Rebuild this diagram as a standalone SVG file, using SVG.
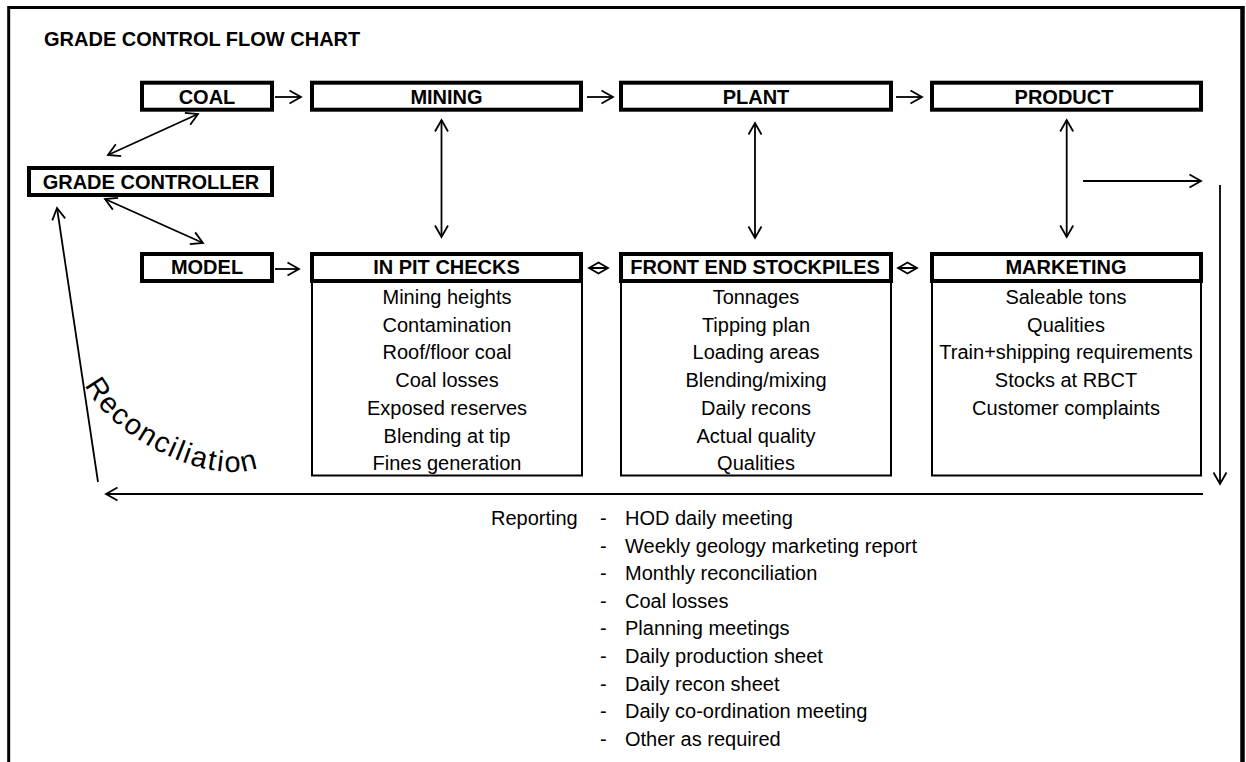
<svg xmlns="http://www.w3.org/2000/svg" width="1246" height="762" viewBox="0 0 1246 762">
<style>
  .hdr { fill: #ffffff; stroke: #000; stroke-width: 4; }
  .body { fill: none; stroke: #000; stroke-width: 2; }
  .lbl { font-family: "Liberation Sans", Arial, sans-serif; font-size: 20px; font-weight: bold; text-anchor: middle; fill: #000; }
  .txt { font-family: "Liberation Sans", Arial, sans-serif; font-size: 20px; text-anchor: middle; fill: #000; }
  .rep { font-family: "Liberation Sans", Arial, sans-serif; font-size: 20px; fill: #000; }
  .con { fill: none; stroke: #000; stroke-width: 1.8; }
  .arr { marker-end: url(#ah); }
  .dbl { marker-start: url(#ah); marker-end: url(#ah); }
</style>
<defs>
  <marker id="ah" markerUnits="userSpaceOnUse" markerWidth="16" markerHeight="16" refX="13" refY="8" orient="auto-start-reverse">
    <path d="M1.5,1.5 L13,8 L1.5,14.5" fill="none" stroke="#000" stroke-width="1.8"/>
  </marker>
</defs>
<rect width="1246" height="762" fill="#ffffff"/>
<g id="frame">
  <path d="M8.7,762 V7.5 H1242.5" fill="none" stroke="#000" stroke-width="3"/>
  <line x1="1242.5" y1="6" x2="1242.5" y2="762" stroke="#000" stroke-width="4.5"/>
</g>
<text x="44" y="46" class="rep" font-weight="bold">GRADE CONTROL FLOW CHART</text>

<g id="coal"><rect class="hdr" x="142" y="82.7" width="130" height="27"/><text class="lbl" x="207" y="103.5">COAL</text></g>
<g id="mining"><rect class="hdr" x="312" y="82.7" width="269" height="27"/><text class="lbl" x="446.5" y="103.5">MINING</text></g>
<g id="plant"><rect class="hdr" x="621" y="82.7" width="270" height="27"/><text class="lbl" x="756" y="103.5">PLANT</text></g>
<g id="product"><rect class="hdr" x="932" y="82.7" width="269" height="27"/><text class="lbl" x="1064" y="103.5">PRODUCT</text></g>
<g id="grade-controller"><rect class="hdr" x="29" y="168" width="243" height="27"/><text class="lbl" x="151" y="189">GRADE CONTROLLER</text></g>
<g id="model"><rect class="hdr" x="142" y="254" width="130" height="27"/><text class="lbl" x="207" y="274">MODEL</text></g>

<g id="in-pit-checks">
  <rect class="body" x="312" y="281" width="270" height="194.5"/>
  <rect class="hdr" x="312" y="254" width="269" height="27"/>
  <text class="lbl" x="446.5" y="274">IN PIT CHECKS</text>
  <text class="txt" x="447" y="304">Mining heights</text>
  <text class="txt" x="447" y="331.7">Contamination</text>
  <text class="txt" x="447" y="359.4">Roof/floor coal</text>
  <text class="txt" x="447" y="387.1">Coal losses</text>
  <text class="txt" x="447" y="414.8">Exposed reserves</text>
  <text class="txt" x="447" y="442.5">Blending at tip</text>
  <text class="txt" x="447" y="470.2">Fines generation</text>
</g>
<g id="front-end-stockpiles">
  <rect class="body" x="621" y="281" width="270" height="194.5"/>
  <rect class="hdr" x="621" y="254" width="270" height="27"/>
  <text class="lbl" x="755" y="274">FRONT END STOCKPILES</text>
  <text class="txt" x="756" y="304">Tonnages</text>
  <text class="txt" x="756" y="331.7">Tipping plan</text>
  <text class="txt" x="756" y="359.4">Loading areas</text>
  <text class="txt" x="756" y="387.1">Blending/mixing</text>
  <text class="txt" x="756" y="414.8">Daily recons</text>
  <text class="txt" x="756" y="442.5">Actual quality</text>
  <text class="txt" x="756" y="470.2">Qualities</text>
</g>
<g id="marketing">
  <rect class="body" x="932" y="281" width="269" height="194.5"/>
  <rect class="hdr" x="932" y="254" width="269" height="27"/>
  <text class="lbl" x="1066" y="274">MARKETING</text>
  <text class="txt" x="1066" y="304">Saleable tons</text>
  <text class="txt" x="1066" y="331.7">Qualities</text>
  <text class="txt" x="1066" y="359.4">Train+shipping requirements</text>
  <text class="txt" x="1066" y="387.1">Stocks at RBCT</text>
  <text class="txt" x="1066" y="414.8">Customer complaints</text>
</g>

<g id="connectors">
  <line class="con arr" x1="275" y1="97" x2="301" y2="97"/>
  <line class="con arr" x1="587" y1="97" x2="613" y2="97"/>
  <line class="con arr" x1="896" y1="97" x2="922" y2="97"/>
  <line class="con arr" x1="275" y1="269" x2="299" y2="269"/>
  <line class="con dbl" x1="198" y1="114" x2="108" y2="155"/>
  <line class="con dbl" x1="105" y1="199" x2="203" y2="243"/>
  <line class="con dbl" x1="441.5" y1="120" x2="441.5" y2="237"/>
  <line class="con dbl" x1="755" y1="123" x2="755" y2="238"/>
  <line class="con dbl" x1="1066.7" y1="120" x2="1066.7" y2="237"/>
  <path class="con" d="M589,268 L598.5,262.5 L608,268 L598.5,273.5 Z M589,268 H608"/>
  <path class="con" d="M898,268 L907.5,262.5 L917,268 L907.5,273.5 Z M898,268 H917"/>
  <line class="con arr" x1="1083" y1="181" x2="1201" y2="181"/>
  <line class="con arr" x1="1220" y1="185" x2="1220" y2="484"/>
  <line class="con arr" x1="1203" y1="494" x2="106" y2="494"/>
  <line class="con arr" x1="98" y1="482" x2="57" y2="208"/>
</g>

<g id="reconciliation">
  <path id="recPath" d="M85,385 C108,435 206,487 258,468" fill="none"/>
  <text font-family="Liberation Sans, Arial, sans-serif" font-size="29" letter-spacing="1.8" fill="#000"><textPath href="#recPath">Reconciliation</textPath></text>
</g>

<g id="reporting">
  <text class="rep" x="491" y="525">Reporting</text>
  <text class="rep" x="600" y="525">-</text><text class="rep" x="625" y="525">HOD daily meeting</text>
  <text class="rep" x="600" y="552.6">-</text><text class="rep" x="625" y="552.6">Weekly geology marketing report</text>
  <text class="rep" x="600" y="580.2">-</text><text class="rep" x="625" y="580.2">Monthly reconciliation</text>
  <text class="rep" x="600" y="607.8">-</text><text class="rep" x="625" y="607.8">Coal losses</text>
  <text class="rep" x="600" y="635.4">-</text><text class="rep" x="625" y="635.4">Planning meetings</text>
  <text class="rep" x="600" y="663">-</text><text class="rep" x="625" y="663">Daily production sheet</text>
  <text class="rep" x="600" y="690.6">-</text><text class="rep" x="625" y="690.6">Daily recon sheet</text>
  <text class="rep" x="600" y="718.2">-</text><text class="rep" x="625" y="718.2">Daily co-ordination meeting</text>
  <text class="rep" x="600" y="745.8">-</text><text class="rep" x="625" y="745.8">Other as required</text>
</g>
</svg>
